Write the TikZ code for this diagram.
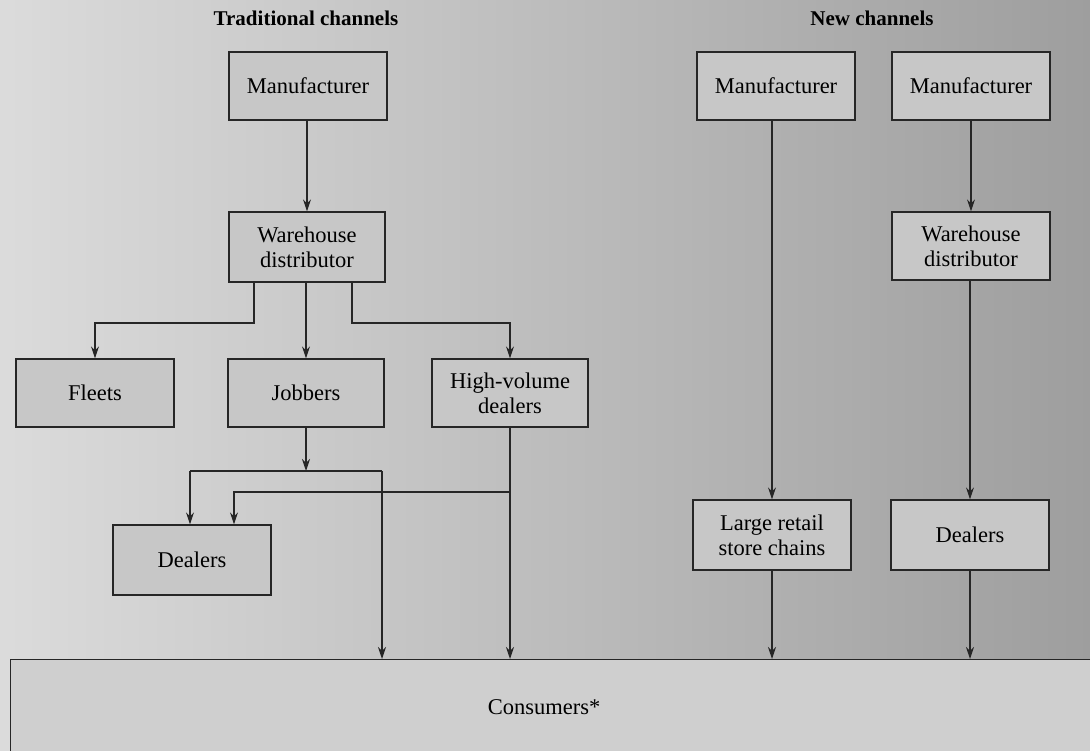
\documentclass[tikz,border=0pt]{standalone}
\usepackage{fontspec}
\setmainfont{Liberation Serif}
\usetikzlibrary{arrows.meta,calc}
\begin{document}
\begin{tikzpicture}[x=1pt,y=-1pt,
  box/.style={draw=black!85,line width=1.3pt,fill=black!22,minimum width=157pt,minimum height=68pt,align=center,font=\fontsize{22.5}{25}\selectfont,inner sep=2pt},
  conn/.style={draw=black!85,line width=1.2pt},
  arr/.style={conn,-{Stealth[length=12pt,width=8pt]}},
  title/.style={font=\fontsize{21}{24}\selectfont\bfseries}]
\useasboundingbox (0,0) rectangle (1090,751);
\shade[left color=black!14,right color=black!38] (0,0) rectangle (1090,751);
% Consumers
\node[draw=black!85,line width=1.3pt,fill=black!19,minimum width=1100pt,minimum height=110pt,anchor=north west,inner sep=0pt] (cons) at (10,659) {};
\node[font=\fontsize{22.5}{25}\selectfont] (constext) at (544,707) {Consumers*};
% titles
\node[title] (t1) at (306,18) {Traditional channels};
\node[title] (t2) at (872,18) {New channels};
% traditional
\node[box,minimum width=158pt] (mfrL) at (308,86) {Manufacturer};
\node[box,minimum width=156pt,minimum height=70pt] (wdL) at (307,247) {Warehouse\\distributor};
\node[box,minimum width=158pt] (fleets) at (95,393) {Fleets};
\node[box,minimum width=156pt] (job) at (306,393) {Jobbers};
\node[box,minimum width=156pt] (hvd) at (510,393) {High-volume\\dealers};
\node[box,minimum width=158pt,minimum height=70pt] (dealL) at (192,560) {Dealers};
% new channels
\node[box,minimum width=158pt] (mfrM) at (776,86) {Manufacturer};
\node[box,minimum width=158pt] (mfrR) at (971,86) {Manufacturer};
\node[box,minimum width=158pt] (wdR) at (971,246) {Warehouse\\distributor};
\node[box,minimum width=158pt,minimum height=70pt] (lrsc) at (772,535) {Large retail\\store chains};
\node[box,minimum width=158pt,minimum height=70pt] (dealR) at (970,535) {Dealers};
% coordinates
\coordinate (wdLa) at (254,282);
\coordinate (wdLc) at (352,282);
\coordinate (j1) at (306,471);
\coordinate (j1L) at (190,471);
\coordinate (j1R) at (382,471);
\coordinate (h1) at (510,492);
\coordinate (h1L) at (234,492);
% traditional connectors
\draw[arr] (mfrL.south -| wdL.north) -- (wdL.north);
\draw[arr] (wdLa) |- (95,323) -- (fleets.north);
\draw[arr] (wdL.south -| job.north) -- (job.north);
\draw[arr] (wdLc) |- (510,323) -- (hvd.north);
\draw[arr] (job.south) -- (j1);
\draw[conn] (j1L) -- (j1R);
\draw[arr] (j1L) -- (j1L |- dealL.north);
\draw[arr] (j1R) -- (j1R |- cons.north);
\draw[arr] (hvd.south) -- (hvd.south |- cons.north);
\draw[arr] (h1) -- (h1L) -- (h1L |- dealL.north);
% new connectors
\draw[arr] (lrsc.north |- mfrM.south) -- (lrsc.north);
\draw[arr] (lrsc.south) -- (lrsc.south |- cons.north);
\draw[arr] (mfrR.south) -- (wdR.north);
\draw[arr] (dealR.north |- wdR.south) -- (dealR.north);
\draw[arr] (dealR.south) -- (dealR.south |- cons.north);
\end{tikzpicture}
\end{document}
